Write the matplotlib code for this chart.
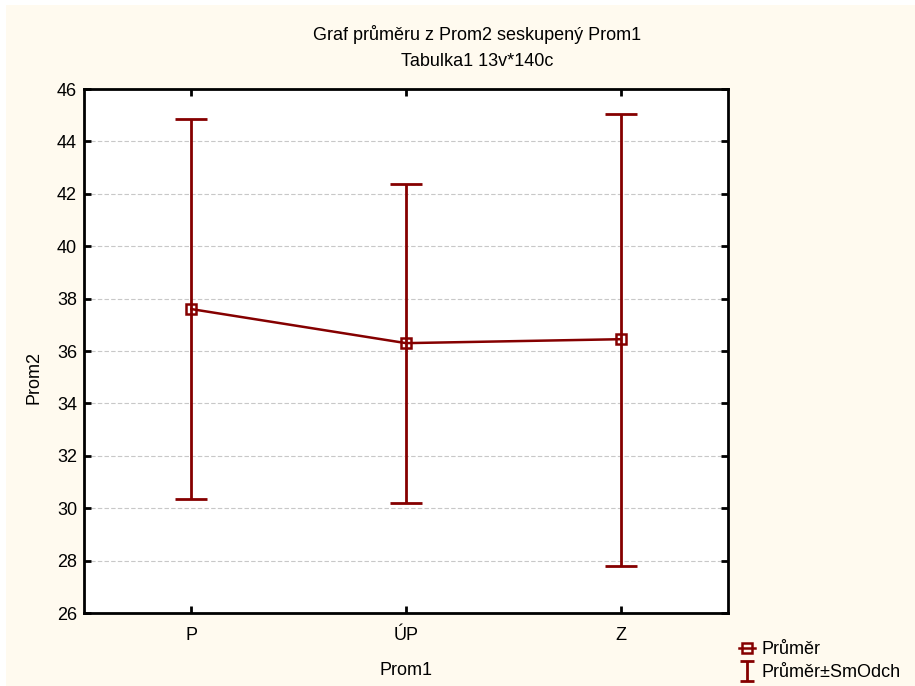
import matplotlib.pyplot as plt
from matplotlib.lines import Line2D
from matplotlib.path import Path
import numpy as np

plt.rcParams['font.family'] = ['Liberation Sans', 'DejaVu Sans']

groups = ['P', 'ÚP', 'Z']
means = [37.6, 36.3, 36.45]
upper = [44.85, 42.37, 45.05]
lower = [30.35, 30.2, 27.8]

red = '#850000'
bg = '#fffaef'

fig = plt.figure(figsize=(9.15, 6.86), dpi=100)
fig.patch.set_facecolor(bg)
# white strips on top and left, like the original export
fig.patches.append(plt.Rectangle((0, 1 - 5/686), 1, 5/686, transform=fig.transFigure,
                                 facecolor='white', edgecolor='none', zorder=-10))
fig.patches.append(plt.Rectangle((0, 0), 6/915, 1, transform=fig.transFigure,
                                 facecolor='white', edgecolor='none', zorder=-10))

ax = fig.add_axes([84/915, 1 - 613/686, (728 - 84)/915, (613 - 89)/686])
ax.set_facecolor('white')

x = np.arange(len(groups))
m = np.array(means)
err = [m - np.array(lower), np.array(upper) - m]
ax.errorbar(x, m, yerr=err, fmt='none', ecolor=red, elinewidth=2,
            capsize=11.5, capthick=2, zorder=3)
ln, = ax.plot(x, m, color=red, lw=1.8, marker='s', markersize=7,
              markerfacecolor='none', markeredgecolor=red, markeredgewidth=1.8,
              zorder=4)

ax.set_xlim(-0.5, 2.5)
ax.set_ylim(26, 46)
ax.set_yticks(np.arange(26, 47, 2))
ax.set_xticks(x)
ax.set_xticklabels(groups)
ax.tick_params(direction='in', length=5, width=2, labelsize=13, top=True, right=True)
ax.tick_params(axis='x', pad=10)
ax.tick_params(axis='y', pad=5)
for s in ax.spines.values():
    s.set_linewidth(2)
ax.yaxis.grid(True, linestyle=(0, (4, 2)), color='#c8c8c8', lw=0.8)
ax.set_axisbelow(True)

ax.set_xlabel('Prom1', fontsize=13)
ax.xaxis.set_label_coords(0.5, -(662 - 613) / 524)
ax.set_ylabel('Prom2', fontsize=13)
ax.yaxis.set_label_coords(-0.065, 0.45)

fig.text(477/915, 1 - 34/686, 'Graf průměru z Prom2 seskupený Prom1', ha='center', va='center', fontsize=13)
fig.text(477/915, 1 - 62/686, 'Tabulka1 13v*140c', ha='center', va='center', fontsize=13)

# legend handles: line with square, and an "I" shaped error bar symbol
ibar = Path([(-0.65, 1), (0.65, 1), (0, 1), (0, -1), (-0.65, -1), (0.65, -1)],
            [Path.MOVETO, Path.LINETO, Path.MOVETO, Path.LINETO, Path.MOVETO, Path.LINETO])
h1 = Line2D([], [], color=red, lw=1.8, marker='s', markersize=7,
            markerfacecolor='none', markeredgecolor=red, markeredgewidth=1.8)
h2 = Line2D([], [], color=red, lw=0, marker=ibar, markersize=15,
            markerfacecolor='none', markeredgecolor=red, markeredgewidth=2)
fig.legend([h1, h2], ['Průměr', 'Průměr±SmOdch'], loc='upper left',
           bbox_to_anchor=(739/915, 1 - 641/686), frameon=False, fontsize=13,
           handlelength=0.9, handletextpad=0.35, labelspacing=0.35,
           borderpad=0, borderaxespad=0)

fig.savefig('out.png', dpi=100, facecolor=fig.get_facecolor())
